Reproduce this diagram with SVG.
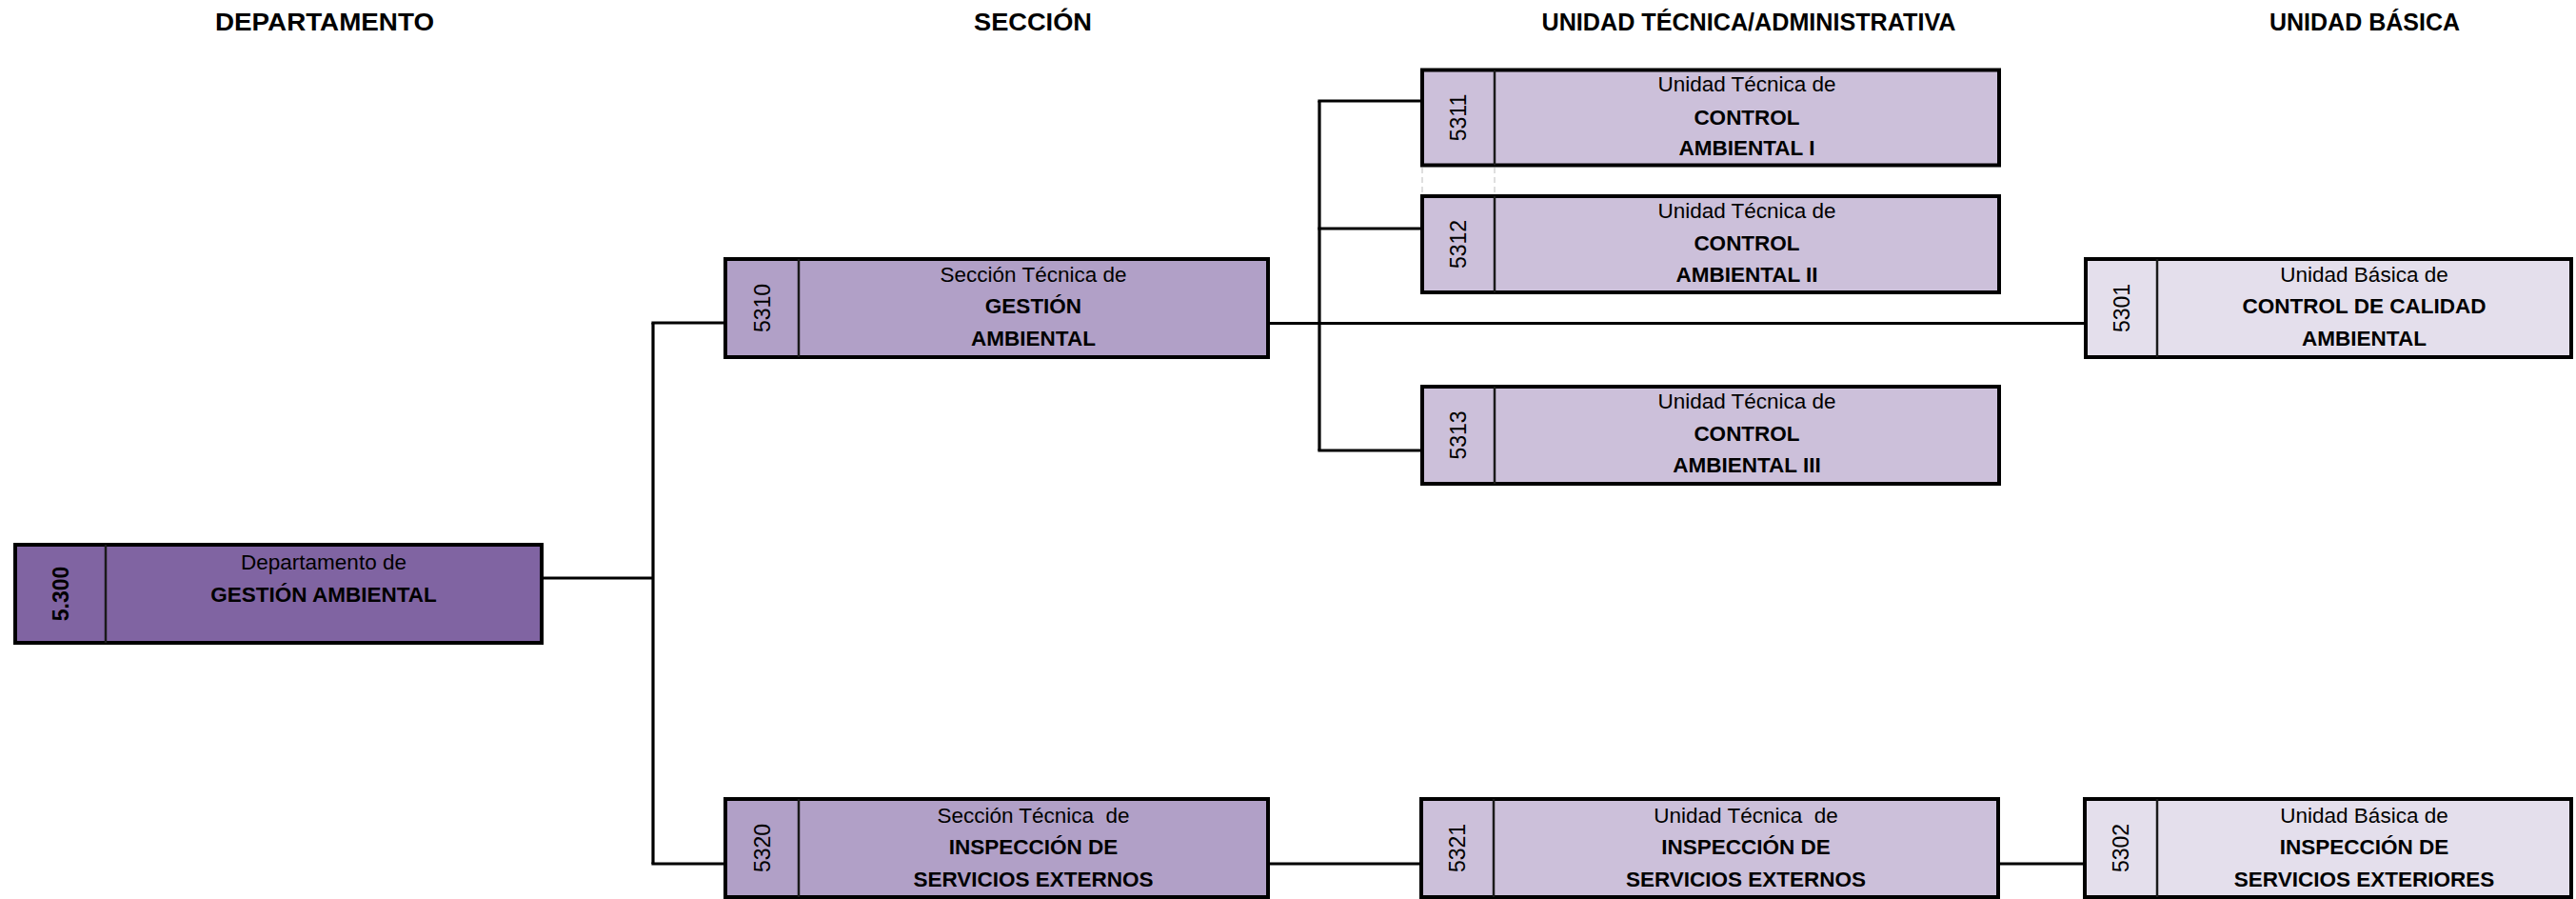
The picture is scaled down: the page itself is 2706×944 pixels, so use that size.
<svg xmlns="http://www.w3.org/2000/svg" width="2706" height="944" viewBox="0 0 2706 944">
<style>
.bg{fill:#ffffff}
.hdr{font-family:"Liberation Sans",Arial,sans-serif;font-weight:bold;font-size:26px;fill:#000;text-anchor:middle}
.box{stroke:#000;stroke-width:4}
.dept{fill:#8064A2}
.sec{fill:#B1A0C7}
.tec{fill:#CCC0DA}
.bas{fill:#E4DFEC}
.div{stroke:#1a1a1a;stroke-width:2.5}
.t{font-family:"Liberation Sans",Arial,sans-serif;font-size:22.5px;fill:#000;text-anchor:middle}
.b{font-weight:bold}
.id{font-family:"Liberation Sans",Arial,sans-serif;font-size:23px;fill:#000;text-anchor:middle}
.conn{stroke:#000;stroke-width:3.2;fill:none}
.faint{stroke:#d4d4d4;stroke-width:1.5;stroke-dasharray:6 4}
</style>
<rect class="bg" x="0" y="0" width="2706" height="944"/>

<g id="headers">
<text class="hdr" x="341" y="32" textLength="230" lengthAdjust="spacingAndGlyphs">DEPARTAMENTO</text>
<text class="hdr" x="1085" y="32" textLength="124" lengthAdjust="spacingAndGlyphs">SECCIÓN</text>
<text class="hdr" x="1837" y="32" textLength="435" lengthAdjust="spacingAndGlyphs">UNIDAD TÉCNICA/ADMINISTRATIVA</text>
<text class="hdr" x="2484" y="32" textLength="200" lengthAdjust="spacingAndGlyphs">UNIDAD BÁSICA</text>
</g>

<g id="connectors">
<line class="conn" x1="569" y1="607" x2="686" y2="607"/>
<line class="conn" x1="686" y1="339" x2="686" y2="907"/>
<line class="conn" x1="684.4" y1="339" x2="762" y2="339"/>
<line class="conn" x1="684.4" y1="907" x2="762" y2="907"/>
<line class="conn" x1="1332" y1="339.5" x2="2191" y2="339.5"/>
<line class="conn" x1="1386" y1="106" x2="1386" y2="473"/>
<line class="conn" x1="1384.4" y1="106" x2="1494" y2="106"/>
<line class="conn" x1="1384.4" y1="240" x2="1494" y2="240"/>
<line class="conn" x1="1384.4" y1="473" x2="1494" y2="473"/>
<line class="conn" x1="1332" y1="907" x2="1493" y2="907"/>
<line class="conn" x1="2099" y1="907" x2="2190" y2="907"/>
<line class="faint" x1="1494" y1="176" x2="1494" y2="204"/>
<line class="faint" x1="1570" y1="176" x2="1570" y2="204"/>
</g>

<g id="n5300">
<rect class="box dept" x="16" y="572" width="553" height="103"/>
<line class="div" x1="111" y1="572" x2="111" y2="675"/>
<text class="id b" transform="translate(63.5,623.5) rotate(-90)" x="0" y="8" font-size="22">5.300</text>
<text class="t" x="340" y="598">Departamento de</text>
<text class="t b" x="340" y="632">GESTIÓN AMBIENTAL</text>
</g>

<g id="n5310">
<rect class="box sec" x="762" y="272" width="570" height="103"/>
<line class="div" x1="839" y1="272" x2="839" y2="375"/>
<text class="id" transform="translate(800.5,323.5) rotate(-90)" x="0" y="8">5310</text>
<text class="t" x="1085.5" y="296">Sección Técnica de</text>
<text class="t b" x="1085.5" y="329">GESTIÓN</text>
<text class="t b" x="1085.5" y="363">AMBIENTAL</text>
</g>

<g id="n5320">
<rect class="box sec" x="762" y="839" width="570" height="103"/>
<line class="div" x1="839" y1="839" x2="839" y2="942"/>
<text class="id" transform="translate(800.5,890.5) rotate(-90)" x="0" y="8">5320</text>
<text class="t" x="1085.5" y="864" xml:space="preserve">Sección Técnica  de</text>
<text class="t b" x="1085.5" y="897">INSPECCIÓN DE</text>
<text class="t b" x="1085.5" y="931">SERVICIOS EXTERNOS</text>
</g>

<g id="n5311">
<rect class="box tec" x="1494" y="73.5" width="606" height="100"/>
<line class="div" x1="1570" y1="73.5" x2="1570" y2="173.5"/>
<text class="id" transform="translate(1532,123.5) rotate(-90)" x="0" y="8">5311</text>
<text class="t" x="1835" y="96">Unidad Técnica de</text>
<text class="t b" x="1835" y="131">CONTROL</text>
<text class="t b" x="1835" y="163">AMBIENTAL I</text>
</g>

<g id="n5312">
<rect class="box tec" x="1494" y="206" width="606" height="101"/>
<line class="div" x1="1570" y1="206" x2="1570" y2="307"/>
<text class="id" transform="translate(1532,256.5) rotate(-90)" x="0" y="8">5312</text>
<text class="t" x="1835" y="228.5">Unidad Técnica de</text>
<text class="t b" x="1835" y="263">CONTROL</text>
<text class="t b" x="1835" y="296">AMBIENTAL II</text>
</g>

<g id="n5313">
<rect class="box tec" x="1494" y="406" width="606" height="102"/>
<line class="div" x1="1570" y1="406" x2="1570" y2="508"/>
<text class="id" transform="translate(1532,457) rotate(-90)" x="0" y="8">5313</text>
<text class="t" x="1835" y="429">Unidad Técnica de</text>
<text class="t b" x="1835" y="463">CONTROL</text>
<text class="t b" x="1835" y="496">AMBIENTAL III</text>
</g>

<g id="n5321">
<rect class="box tec" x="1493" y="839" width="606" height="103"/>
<line class="div" x1="1569" y1="839" x2="1569" y2="942"/>
<text class="id" transform="translate(1531,890.5) rotate(-90)" x="0" y="8">5321</text>
<text class="t" x="1834" y="864" xml:space="preserve">Unidad Técnica  de</text>
<text class="t b" x="1834" y="897">INSPECCIÓN DE</text>
<text class="t b" x="1834" y="931">SERVICIOS EXTERNOS</text>
</g>

<g id="n5301">
<rect class="box bas" x="2191" y="272" width="510" height="103"/>
<line class="div" x1="2266" y1="272" x2="2266" y2="375"/>
<text class="id" transform="translate(2228.5,323.5) rotate(-90)" x="0" y="8">5301</text>
<text class="t" x="2483.5" y="296">Unidad Básica de</text>
<text class="t b" x="2483.5" y="329">CONTROL DE CALIDAD</text>
<text class="t b" x="2483.5" y="363">AMBIENTAL</text>
</g>

<g id="n5302">
<rect class="box bas" x="2190" y="839" width="511" height="103"/>
<line class="div" x1="2266" y1="839" x2="2266" y2="942"/>
<text class="id" transform="translate(2228,890.5) rotate(-90)" x="0" y="8">5302</text>
<text class="t" x="2483.5" y="864">Unidad Básica de</text>
<text class="t b" x="2483.5" y="897">INSPECCIÓN DE</text>
<text class="t b" x="2483.5" y="931">SERVICIOS EXTERIORES</text>
</g>
</svg>
